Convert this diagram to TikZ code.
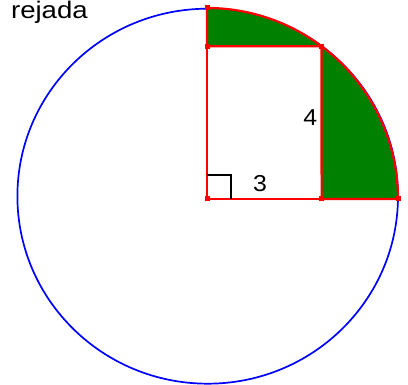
\documentclass[tikz,border=0pt]{standalone}
\usepackage{fontspec}
\setmainfont{Liberation Sans}
\definecolor{ggred}{RGB}{255,0,0}
\definecolor{gggreen}{RGB}{0,128,0}
\definecolor{ggblue}{RGB}{0,0,255}
\tikzset{
  circleline/.style={draw=ggblue,line width=1.7pt},
  shaded/.style={fill=gggreen,draw=ggred,line width=2.2pt,line join=round},
  thinred/.style={draw=ggred,line width=1.1pt},
  rightmark/.style={draw=black,line width=1.3pt},
  ptdot/.style={fill=ggred,inner sep=0pt,minimum size=5pt,rectangle},
  lbl/.style={inner sep=0pt,font=\fontsize{23}{26}\selectfont},
  ttl/.style={inner sep=0pt,font=\fontsize{24}{27}\selectfont}
}
\begin{document}
\begin{tikzpicture}[x=1pt,y=1pt]
\useasboundingbox (0,0) rectangle (408,385);
% key points (u = 38.2)
\coordinate (C) at (207,186);
\coordinate (T) at (207,377);
\coordinate (A) at (207,338.8);
\coordinate (B) at (321.6,338.8);
\coordinate (D) at (321.6,186);
\coordinate (E) at (398,186);
\coordinate (O) at (207.7,188.8);
% circle
\draw[circleline] (O) ellipse[x radius=190.3,y radius=187.5];
% shaded regions
\path[shaded] (T) -- (A) -- (B) arc[start angle=53.13,end angle=90,radius=191] -- cycle;
\path[shaded] (D) -- (E) arc[start angle=0,end angle=53.13,radius=191] -- cycle;
% rectangle
\draw[thinred] (C) -- (D);
\draw[thinred] (C) -- (A);
\draw[thinred] (A) -- (B);
% right angle mark
\coordinate (R1) at (207,210);
\coordinate (R2) at (231,210);
\coordinate (R3) at (231,186);
\draw[rightmark] (R1) -- (R2) -- (R3);
% points
\foreach \p in {C,T,A,B,D,E} \node[ptdot] (dot\p) at (\p) {};
% labels
\node[lbl] (l3) at (260,201.4) {\scalebox{1.08}[1]{3}};
\node[lbl] (l4) at (310.3,267.2) {\scalebox{1.08}[1]{4}};
\node[ttl,anchor=base east] (title) at (88,366.5) {\scalebox{1.15}[1]{rejada}};
\end{tikzpicture}
\end{document}
